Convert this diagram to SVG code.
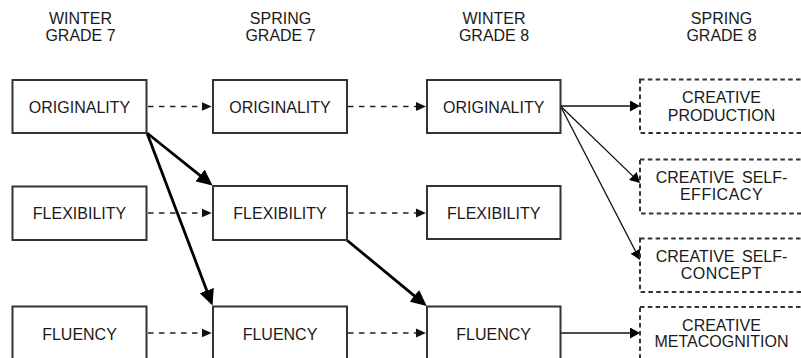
<svg xmlns="http://www.w3.org/2000/svg" width="801" height="358" viewBox="0 0 801 358">
<defs>
<style>
text{font-family:"Liberation Sans",Arial,sans-serif;font-size:16px;fill:#1a1a1a;text-anchor:middle}
.box{fill:#fff;stroke:#333;stroke-width:2}
.dbox{fill:#fff;stroke:#333;stroke-width:2;stroke-dasharray:4.5 3.3}
.dl{stroke:#222;stroke-width:1.5;stroke-dasharray:5.5 5.5;fill:none}
.tl{stroke:#111;stroke-width:1.3;fill:none}
.kl{stroke:#000;stroke-width:2.8;fill:none}
</style>
<marker id="ad" markerUnits="userSpaceOnUse" markerWidth="11" markerHeight="10" refX="8" refY="5" orient="auto"><path d="M0,0.5 L10,5 L0,9.5 z" fill="#111"/></marker>
<marker id="at" markerUnits="userSpaceOnUse" markerWidth="11" markerHeight="11" refX="8" refY="5.5" orient="auto"><path d="M0,0 L10,5.5 L0,11 z" fill="#000"/></marker>
<marker id="ak" markerUnits="userSpaceOnUse" markerWidth="17" markerHeight="15" refX="13" refY="7.5" orient="auto"><path d="M0,0 L16,7.5 L0,15 z" fill="#000"/></marker>
</defs>
<g id="headers">
<text x="80.5" y="23.5">WINTER</text><text x="80.5" y="41">GRADE 7</text>
<text x="280.5" y="23.5">SPRING</text><text x="280.5" y="41">GRADE 7</text>
<text x="494" y="23.5">WINTER</text><text x="494" y="41">GRADE 8</text>
<text x="721.5" y="23.5">SPRING</text><text x="721.5" y="41">GRADE 8</text>
</g>
<g id="connectors">
<line class="dl" x1="148" y1="106.5" x2="209.7" y2="106.5" marker-end="url(#ad)"/>
<line class="dl" x1="348" y1="106.5" x2="424" y2="106.5" marker-end="url(#ad)"/>
<line class="dl" x1="148" y1="213" x2="209.7" y2="213" marker-end="url(#ad)"/>
<line class="dl" x1="348" y1="213" x2="424" y2="213" marker-end="url(#ad)"/>
<line class="dl" x1="148" y1="333" x2="209.7" y2="333" marker-end="url(#ad)"/>
<line class="dl" x1="348" y1="333" x2="424" y2="333" marker-end="url(#ad)"/>
<line class="kl" x1="147" y1="133" x2="210.2" y2="183.6" marker-end="url(#ak)"/>
<line class="kl" x1="147" y1="133" x2="211.4" y2="302.7" marker-end="url(#ak)"/>
<line class="kl" x1="346.7" y1="240" x2="424.4" y2="304.1" marker-end="url(#ak)"/>
<line class="tl" x1="560.5" y1="106" x2="638" y2="106" marker-end="url(#at)"/>
<line class="tl" x1="560.5" y1="106" x2="638.6" y2="181.6" marker-end="url(#at)"/>
<line class="tl" x1="560.5" y1="106" x2="639.1" y2="258.2" marker-end="url(#at)"/>
<line class="tl" x1="560.5" y1="333" x2="638" y2="333" marker-end="url(#at)"/>
</g>
<g id="n-orig7w"><rect class="box" x="12.5" y="80" width="134" height="53"/><text x="79.5" y="112.7">ORIGINALITY</text></g>
<g id="n-orig7s"><rect class="box" x="213" y="80" width="134" height="53"/><text x="280" y="112.7">ORIGINALITY</text></g>
<g id="n-orig8w"><rect class="box" x="427" y="80" width="133.5" height="53"/><text x="493.7" y="112.7">ORIGINALITY</text></g>
<g id="n-flex7w"><rect class="box" x="12.5" y="186.5" width="134" height="53.5"/><text x="79.5" y="219.3">FLEXIBILITY</text></g>
<g id="n-flex7s"><rect class="box" x="213" y="186" width="134" height="54"/><text x="280" y="219.3">FLEXIBILITY</text></g>
<g id="n-flex8w"><rect class="box" x="427" y="186" width="133.5" height="53"/><text x="493.7" y="219">FLEXIBILITY</text></g>
<g id="n-flu7w"><rect class="box" x="12.5" y="306.5" width="134" height="54"/><text x="79.5" y="340">FLUENCY</text></g>
<g id="n-flu7s"><rect class="box" x="213" y="306.5" width="134" height="54"/><text x="280" y="340">FLUENCY</text></g>
<g id="n-flu8w"><rect class="box" x="427" y="306.5" width="133.5" height="54"/><text x="493.7" y="340">FLUENCY</text></g>
<g id="n-prod"><rect class="dbox" x="640" y="79.5" width="163" height="53.5"/><text x="721.5" y="103.3">CREATIVE</text><text x="721.5" y="120.7">PRODUCTION</text></g>
<g id="n-eff"><rect class="dbox" x="640" y="159.5" width="163" height="54"/><text x="721.5" y="183.3" word-spacing="3">CREATIVE SELF-</text><text x="721.5" y="200" letter-spacing="0.5">EFFICACY</text></g>
<g id="n-con"><rect class="dbox" x="640" y="238.5" width="163" height="53.5"/><text x="721.5" y="261.7" word-spacing="3">CREATIVE SELF-</text><text x="721.5" y="279.3" letter-spacing="0.5">CONCEPT</text></g>
<g id="n-meta"><rect class="dbox" x="640" y="307" width="163" height="54"/><text x="721.5" y="330.7">CREATIVE</text><text x="721.5" y="347.3">METACOGNITION</text></g>
</svg>
